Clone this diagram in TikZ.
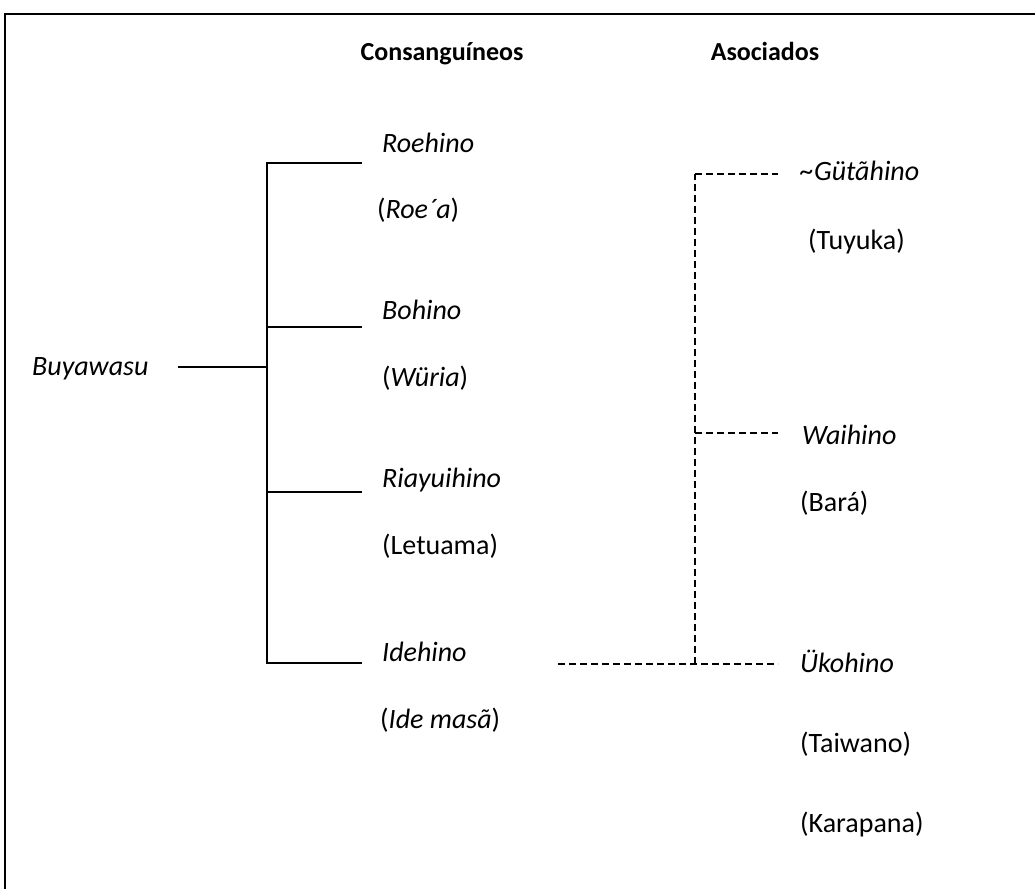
\documentclass[tikz,border=0pt]{standalone}
\usepackage{fontspec}
\setmainfont{Carlito}
\begin{document}
\begin{tikzpicture}[x=1pt,y=-1pt,
  lbl/.style={anchor=base west,inner sep=0pt,font=\fontsize{28}{33}\selectfont},
  head/.style={anchor=base,inner sep=0pt,font=\fontsize{26}{31}\selectfont\bfseries},
  solidln/.style={line width=1.8pt},
  dashln/.style={line width=1.7pt,dash pattern=on 7pt off 4pt}]
\useasboundingbox (0,0) rectangle (1035,888);
% open frame: left and top edges
\draw[line width=2pt] (5,889) -- (5,14) -- (1036,14);

% column headings
\node[head] (hcons) at (442,61) {Consanguíneos};
\node[head] (hasoc) at (765,61) {Asociados};

% consanguineal groups
\node[lbl] (buy) at (32,375) {\itshape Buyawasu};
\node[lbl] (roe)  at (382,152) {\itshape Roehino};
\node[lbl] (roea) at (377,218) {(\textit{Roe´a})};
\node[lbl] (boh)  at (382,319) {\itshape Bohino};
\node[lbl] (wur)  at (382,386) {(\textit{Würia})};
\node[lbl] (ria)  at (382,487) {\itshape Riayuihino};
\node[lbl] (let)  at (382,554) {(Letuama)};
\node[lbl] (ide)  at (382,661) {\itshape Idehino};
\node[lbl] (idem) at (380,728) {(\textit{Ide masã})};

% associated groups
\node[lbl] (gut)  at (800,180) {\itshape \textasciitilde Gütãhino};
\node[lbl] (tuy)  at (808,249) {(Tuyuka)};
\node[lbl] (wai)  at (802,444) {\itshape Waihino};
\node[lbl] (bar)  at (800,511) {(Bará)};
\node[lbl] (uko)  at (800,672) {\itshape Ükohino};
\node[lbl] (tai)  at (800,752) {(Taiwano)};
\node[lbl] (kar)  at (800,832) {(Karapana)};

% solid tree
\coordinate (b0) at (178,367);
\coordinate (bj) at (267,367);
\coordinate (t1) at (267,163);
\coordinate (t2) at (267,327);
\coordinate (t3) at (267,492);
\coordinate (t4) at (267,663);
\coordinate (e1) at (362,163);
\coordinate (e2) at (362,327);
\coordinate (e3) at (362,492);
\coordinate (e4) at (362,663);
\draw[solidln] (b0) -- (bj);
\draw[solidln] (e1) -- (t1) -- (t4) -- (e4);
\draw[solidln] (t2) -- (e2);
\draw[solidln] (t3) -- (e3);

% dashed links to the associated groups
\coordinate (d0) at (558,664);
\coordinate (dj) at (695,664);
\coordinate (dt) at (695,174);
\coordinate (dm) at (695,433);
\coordinate (f1) at (778,174);
\coordinate (f2) at (778,433);
\coordinate (f3) at (778,664);
\draw[dashln] (d0) -- (f3);
\draw[dashln] (dj) -- (dt);
\draw[dashln] (dt) -- (f1);
\draw[dashln] (dm) -- (f2);
\end{tikzpicture}
\end{document}
